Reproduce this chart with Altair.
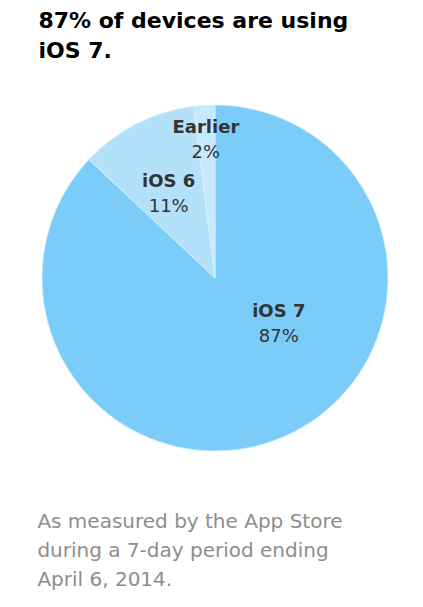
import math
import altair as alt
import pandas as pd

# ---- data ----
categories = ["iOS 7", "iOS 6", "Earlier"]
shares = [87, 11, 2]
ranks = [1, 2, 3]
slice_colors = ["#7bccf9", "#b4e1fa", "#c6e9fc"]

title_lines = ["87% of devices are using", "iOS 7."]
footer_lines = [
    "As measured by the App Store",
    "during a 7-day period ending",
    "April 6, 2014.",
]

df = pd.DataFrame({"category": categories, "share": shares, "rank": ranks})
df["label"] = [f"{s}%" for s in shares]

FONT = "DejaVu Sans"
SIZE = 346

color_scale = alt.Scale(domain=categories, range=slice_colors)

base = alt.Chart(df)

arcs = base.mark_arc(stroke="#d6effd", strokeWidth=0.8).encode(
    theta=alt.Theta("share:Q", stack=True),
    order=alt.Order("rank:Q"),
    color=alt.Color("category:N", scale=color_scale, legend=None),
)

# label placement styles (radius in px, shift dx/dy in px)
label_style = {
    "iOS 7": dict(r=75, dx=34, dy=-30),
    "iOS 6": dict(r=102, dx=0, dy=0),
    "Earlier": dict(r=145, dx=0, dy=0),
}

theta_scale = alt.Scale(domain=[0, 100], range=[0, 2 * math.pi])

layers = [arcs]
for cat in categories:
    st = label_style[cat]
    lb = (
        base.transform_window(cum="sum(share)", sort=[alt.SortField("rank")])
        .transform_calculate(mid="datum.cum - datum.share / 2")
        .transform_filter(alt.datum.category == cat)
    )
    name = lb.mark_text(
        font=FONT, fontSize=18, fontWeight="bold", color="#333333",
        align="center", baseline="alphabetic", dx=st["dx"], dy=st["dy"],
    ).encode(
        theta=alt.Theta("mid:Q", scale=theta_scale),
        radius=alt.value(st["r"]),
        text="category:N",
    )
    pct = lb.mark_text(
        font=FONT, fontSize=18, fontWeight="normal", color="#333333",
        align="center", baseline="alphabetic", dx=st["dx"], dy=st["dy"] + 25,
    ).encode(
        theta=alt.Theta("mid:Q", scale=theta_scale),
        radius=alt.value(st["r"]),
        text="label:N",
    )
    layers += [name, pct]

pie = alt.layer(*layers).properties(
    width=SIZE,
    height=SIZE,
    title=alt.TitleParams(
        text=footer_lines,
        orient="bottom",
        anchor="start",
        font=FONT,
        fontSize=20,
        fontWeight="normal",
        color="#8e8e8e",
        lineHeight=29,
        offset=59,
        dx=-3,
    ),
)

chart = (
    alt.vconcat(pie)
    .properties(
        title=alt.TitleParams(
            text=title_lines,
            anchor="start",
            font=FONT,
            fontSize=22,
            fontWeight="bold",
            color="#000000",
            lineHeight=30,
            offset=40,
            dx=1,
        ),
        padding={"left": 29, "top": 2, "right": 5, "bottom": 5},
        background="white",
    )
    .configure_view(strokeWidth=0)
)

chart.save("out.html", embed_options={"renderer": "svg", "actions": False})
